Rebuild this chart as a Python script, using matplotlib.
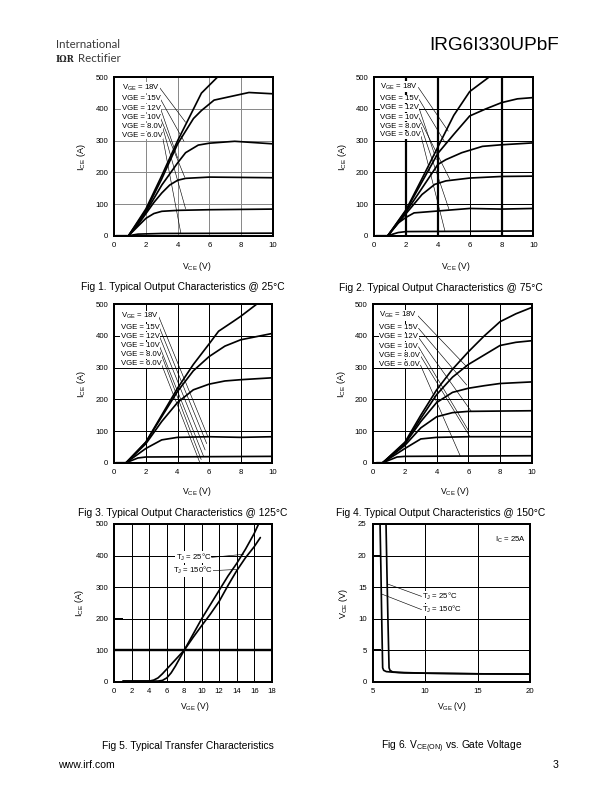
import matplotlib
matplotlib.use("Agg")
import matplotlib.pyplot as plt

plt.rcParams['font.family'] = ['Liberation Sans', 'DejaVu Sans']
plt.rcParams['mathtext.fontset'] = 'custom'
plt.rcParams['mathtext.rm'] = 'Liberation Sans'
plt.rcParams['mathtext.it'] = 'Liberation Sans'
plt.rcParams['mathtext.default'] = 'regular'

# ---------------- data ----------------
vge_labels = ["V$_{GE}$ = 18V", "VGE = 15V", "VGE = 12V", "VGE = 10V", "VGE = 8.0V", "VGE = 6.0V"]

# Fig 1, 25C
f1_x6 = [0.1, 0.9, 1.5, 3, 10]
f1_y6 = [0, 0, 5, 7, 8]
f1_x8 = [0.9, 1.5, 2, 2.5, 3, 4, 6, 10]
f1_y8 = [0, 30, 55, 70, 77, 80, 82, 84]
f1_x10 = [0.9, 1.5, 2, 2.5, 3, 3.5, 4, 4.5, 6, 10]
f1_y10 = [0, 35, 70, 105, 135, 160, 175, 181, 185, 183]
f1_x12 = [0.9, 2, 3, 4, 4.5, 5.3, 6, 7.6, 10]
f1_y12 = [0, 75, 160, 230, 262, 286, 292, 298, 290]
f1_x15 = [0.9, 2, 3, 4, 5, 5.5, 6.3, 8.5, 10]
f1_y15 = [0, 80, 180, 290, 370, 395, 428, 452, 448]
f1_x18 = [0.9, 2, 3, 4, 5, 5.5, 6, 6.5]
f1_y18 = [0, 85, 190, 300, 400, 450, 475, 500]
f1_lab_x = 0.46
f1_lab_y = [468, 432, 402, 373, 344, 316]
f1_end_x = [4.5, 4.4, 4.0, 4.45, 4.5, 4.2]
f1_end_y = [358, 298, 245, 184, 85, 8]

# Fig 2, 75C
f2_x6 = [0.1, 0.85, 1.5, 2, 10]
f2_y6 = [0, 0, 10, 13, 15]
f2_x8 = [0.85, 1.5, 2, 2.5, 4, 6, 8, 10]
f2_y8 = [0, 40, 58, 72, 78, 86, 84, 86]
f2_x10 = [0.85, 2, 3, 3.8, 4.5, 6, 8, 10]
f2_y10 = [0, 70, 130, 162, 173, 182, 187, 188]
f2_x12 = [0.85, 2, 3, 4, 4.5, 5.5, 6.8, 8, 10]
f2_y12 = [0, 75, 150, 225, 240, 262, 282, 287, 293]
f2_x15 = [0.85, 2, 3, 4, 5, 6, 7, 8, 9, 10]
f2_y15 = [0, 80, 170, 260, 320, 378, 400, 420, 432, 436]
f2_x18 = [0.85, 2, 3, 4, 5, 6, 7.2]
f2_y18 = [0, 82, 180, 280, 380, 455, 500]
f2_lab_x = 0.36
f2_lab_y = [470, 432, 404, 374, 346, 318]
f2_end_x = [4.65, 4.5, 3.9, 4.75, 4.7, 4.45]
f2_end_y = [330, 290, 240, 178, 83, 13]

# Fig 3, 125C
f3_x6 = [0.1, 0.75, 1.5, 2, 10]
f3_y6 = [0, 0, 15, 18, 20]
f3_x8 = [0.75, 2, 3, 4, 6, 8, 10]
f3_y8 = [0, 45, 72, 80, 82, 80, 82]
f3_x12 = [0.75, 2, 3, 4, 5, 6, 7, 8, 10]
f3_y12 = [0, 60, 130, 190, 230, 248, 258, 262, 268]
f3_x15 = [0.75, 2, 3, 4, 5, 6, 7, 7.5, 8, 10]
f3_y15 = [0, 65, 145, 225, 290, 335, 368, 378, 388, 408]
f3_x18 = [0.75, 2, 3, 4, 5, 6, 6.6, 7.5, 8, 9]
f3_y18 = [0, 65, 150, 235, 310, 375, 415, 445, 462, 500]
f3_lab_x = 0.4
f3_lab_y = [463, 427, 399, 369, 340, 312]
f3_end_x = [5.9, 5.85, 5.75, 5.65, 5.5, 5.4]
f3_end_y = [85, 60, 40, 20, 10, 2]

# Fig 4, 150C
f4_x6 = [0.2, 0.6, 1.5, 2, 10]
f4_y6 = [0, 0, 18, 20, 22]
f4_x8 = [0.6, 2, 3, 4, 6, 10]
f4_y8 = [0, 45, 75, 80, 82, 82]
f4_x10 = [0.6, 2, 3, 4, 5, 6, 10]
f4_y10 = [0, 55, 110, 145, 158, 162, 164]
f4_x12 = [0.6, 2, 3, 4, 5, 6, 7, 8, 10]
f4_y12 = [0, 60, 130, 190, 222, 235, 243, 250, 255]
f4_x15 = [0.6, 2, 3, 4, 5, 6, 7, 8, 9, 10]
f4_y15 = [0, 62, 140, 215, 270, 310, 340, 370, 380, 385]
f4_x18 = [0.6, 2, 3, 4, 5, 6, 7, 8, 9, 10]
f4_y18 = [0, 65, 150, 230, 295, 350, 400, 445, 470, 490]
f4_lab_x = 0.38
f4_lab_y = [466, 426, 397, 368, 339, 311]
f4_end_x = [5.95, 5.9, 6.2, 6.05, 6.1, 5.5]
f4_end_y = [300, 245, 161, 98, 82, 20]

# Fig 5, transfer characteristics
f5_x25 = [1, 5, 5.5, 6, 6.5, 7, 7.5, 8, 9, 10, 11, 12, 13, 14, 15, 16, 16.5]
f5_y25 = [2, 2, 4, 12, 28, 50, 75, 100, 150, 200, 245, 290, 335, 375, 420, 470, 500]
f5_x150 = [1, 4, 4.5, 5, 5.5, 6, 6.5, 7, 7.5, 8, 9, 10, 11, 12, 13, 14, 15, 16, 16.7]
f5_y150 = [2, 2, 5, 12, 25, 40, 55, 70, 85, 100, 140, 178, 215, 255, 305, 352, 393, 428, 457]
f5_labels = ["T$_J$ = 25°C", "T$_J$ = 150°C"]
f5_lab_x = [7.0, 6.7]
f5_lab_y = [394, 352]
f5_end_x = [14.8, 14.0]
f5_end_y = [404, 356]

# Fig 6, VCE(on) vs VGE
f6_x25 = [6.27, 6.35, 6.45, 6.56, 6.65, 6.9, 7.5, 8, 10, 15, 20]
f6_y25 = [25, 18, 10, 2.2, 1.8, 1.55, 1.45, 1.4, 1.35, 1.25, 1.2]
f6_x150 = [5.70, 5.78, 5.86, 5.95, 6.05, 6.3, 7, 8, 10, 15, 20]
f6_y150 = [25, 18, 10, 2.2, 1.8, 1.6, 1.5, 1.45, 1.35, 1.25, 1.2]
f6_labels = ["T$_J$ = 25°C", "T$_J$ = 150°C"]
f6_lab_x = [9.7, 9.7]
f6_lab_y = [13.5, 11.4]
f6_end_x = [6.4, 5.85]
f6_end_y = [15.5, 13.9]

W, H = 612, 792
fig = plt.figure(figsize=(W / 72, H / 72), dpi=72)


def px_axes(x0, x1, y0, y1):
    # axes from a pixel box (top-left origin)
    return fig.add_axes([x0 / W, 1 - y1 / H, (x1 - x0) / W, (y1 - y0) / H])


def style(ax, xlim, ylim, xticks, yticks, gridc='k'):
    ax.set_xlim(xlim)
    ax.set_ylim(ylim)
    ax.set_xticks(xticks)
    ax.set_yticks(yticks)
    ax.tick_params(length=0, labelsize=7.8, pad=6)
    ax.grid(True, color=gridc, lw=1.0)
    ax.set_axisbelow(True)
    for s in ax.spines.values():
        s.set_linewidth(2)


def curve(ax, x, y):
    ax.plot(x, y, color='k', lw=1.7, solid_joinstyle='round', solid_capstyle='round', zorder=2)


def labels(ax, texts, lx, ly, ex, ey, relx=1.0):
    for i in range(len(texts)):
        tx = lx[i] if isinstance(lx, list) else lx
        ax.annotate(texts[i], xy=(ex[i], ey[i]), xytext=(tx, ly[i]), ha='left', va='center',
                    fontsize=7.8, zorder=4,
                    bbox=dict(boxstyle='square,pad=0.05', fc='white', ec='none'),
                    arrowprops=dict(arrowstyle='-', lw=0.6, color='k', shrinkA=0, shrinkB=0,
                                    relpos=(relx, 0.5)))


def fig_label(x, y, s, rot=0, size=8.5, va='center'):
    fig.text(x / W, 1 - y / H, s, ha='center', va=va, rotation=rot, fontsize=size)


vticks = [0, 2, 4, 6, 8, 10]
iticks = [0, 100, 200, 300, 400, 500]

# Fig 1
ax1 = px_axes(114.3, 272.7, 77.3, 235.7)
style(ax1, (0, 10), (0, 500), vticks, iticks, gridc='#8a8a8a')
for x, y in [(f1_x6, f1_y6), (f1_x8, f1_y8), (f1_x10, f1_y10), (f1_x12, f1_y12), (f1_x15, f1_y15), (f1_x18, f1_y18)]:
    curve(ax1, x, y)
labels(ax1, vge_labels, f1_lab_x, f1_lab_y, f1_end_x, f1_end_y)

# Fig 2
ax2 = px_axes(374.3, 533.3, 77.3, 235.7)
style(ax2, (0, 10), (0, 500), vticks, iticks)
for v in [2, 4, 8]:
    ax2.axvline(v, color='k', lw=2.2, zorder=0.6)
for x, y in [(f2_x6, f2_y6), (f2_x8, f2_y8), (f2_x10, f2_y10), (f2_x12, f2_y12), (f2_x15, f2_y15), (f2_x18, f2_y18)]:
    curve(ax2, x, y)
labels(ax2, vge_labels, f2_lab_x, f2_lab_y, f2_end_x, f2_end_y)

# Fig 3
ax3 = px_axes(114.3, 272.3, 304.3, 462.7)
style(ax3, (0, 10), (0, 500), vticks, iticks)
for x, y in [(f3_x6, f3_y6), (f3_x8, f3_y8), (f3_x12, f3_y12), (f3_x15, f3_y15), (f3_x18, f3_y18)]:
    curve(ax3, x, y)
labels(ax3, vge_labels, f3_lab_x, f3_lab_y, f3_end_x, f3_end_y)

# Fig 4
ax4 = px_axes(373.3, 531.7, 304.3, 462.7)
style(ax4, (0, 10), (0, 500), vticks, iticks)
for x, y in [(f4_x6, f4_y6), (f4_x8, f4_y8), (f4_x10, f4_y10), (f4_x12, f4_y12), (f4_x15, f4_y15), (f4_x18, f4_y18)]:
    curve(ax4, x, y)
labels(ax4, vge_labels, f4_lab_x, f4_lab_y, f4_end_x, f4_end_y)

# Fig 5
ax5 = px_axes(114.3, 271.7, 524, 681.7)
style(ax5, (0, 18), (0, 500), list(range(0, 19, 2)), iticks)
ax5.axhline(100, color='k', lw=2.4, zorder=0.6)
ax5.plot([0.1, 0.85], [200, 200], color='k', lw=2, zorder=0.6)
curve(ax5, f5_x25, f5_y25)
curve(ax5, f5_x150, f5_y150)
labels(ax5, f5_labels, f5_lab_x, f5_lab_y, f5_end_x, f5_end_y)

# Fig 6
ax6 = px_axes(372.7, 530, 524, 681.7)
style(ax6, (5, 20), (0, 25), [5, 10, 15, 20], [0, 5, 10, 15, 20, 25])
for v in [20, 5]:
    ax6.plot([5, 5.7], [v, v], color='k', lw=2, zorder=0.6)
curve(ax6, f6_x25, f6_y25)
curve(ax6, f6_x150, f6_y150)
labels(ax6, f6_labels, f6_lab_x, f6_lab_y, f6_end_x, f6_end_y, relx=0.0)
ax6.text(16.65, 22.5, "I$_C$ = 25A", fontsize=7.8, ha='left', va='center')

# axis labels
for (xl, yl) in [(196.7, 266.7), (456, 266.7), (196.7, 491.7), (455, 491.7)]:
    fig_label(xl, yl, "V$_{CE}$ (V)")
for (xl, yl) in [(81.7, 157), (342.7, 157), (81.7, 384), (341.7, 384), (80, 603)]:
    fig_label(xl, yl, "I$_{CE}$ (A)", rot=90, size=9)
fig_label(195, 706.7, "V$_{GE}$ (V)")
fig_label(451.7, 706.7, "V$_{GE}$ (V)")
fig_label(343, 603, "V$_{CE}$ (V)", rot=90, size=9)

# captions (placed on their baselines so sub-scripted text lines up)
fig_label(183, 290.5, "Fig 1. Typical Output Characteristics @ 25°C", size=10.2, va='baseline')
fig_label(441, 291, "Fig 2. Typical Output Characteristics @ 75°C", size=10.2, va='baseline')
fig_label(183, 515.5, "Fig 3. Typical Output Characteristics @ 125°C", size=10.2, va='baseline')
fig_label(441, 515.5, "Fig 4. Typical Output Characteristics @ 150°C", size=10.2, va='baseline')
fig_label(188, 749, "Fig 5. Typical Transfer Characteristics", size=10.2, va='baseline')
fig_label(451.7, 749, "Fig 6. V$_{CE(ON)}$ vs. Gate Voltage", size=10.2, va='baseline')

# header / footer
fig.text(56 / W, 1 - 44 / H, "International", fontsize=11.5, color='#3a3a3a',
         ha='left', va='center', family=['Lato', 'DejaVu Sans'])
fig.text(56 / W, 1 - 59 / H, "IΩR", fontsize=8.5, color='#222222', fontweight='bold',
         ha='left', va='center', family=['DejaVu Serif'])
fig.text(78 / W, 1 - 59 / H, "Rectifier", fontsize=11.5, color='#3a3a3a',
         ha='left', va='center', family=['Lato', 'DejaVu Sans'])
fig.text(559 / W, 1 - 45 / H, "IRG6I330UPbF", fontsize=19, ha='right', va='center')
fig.text(58 / W, 1 - 765 / H, "www.irf.com", fontsize=10.5, ha='left', va='center')
fig.text(558 / W, 1 - 765 / H, "3", fontsize=10.5, ha='right', va='center')

fig.savefig("out.png", dpi=72, facecolor='white')
